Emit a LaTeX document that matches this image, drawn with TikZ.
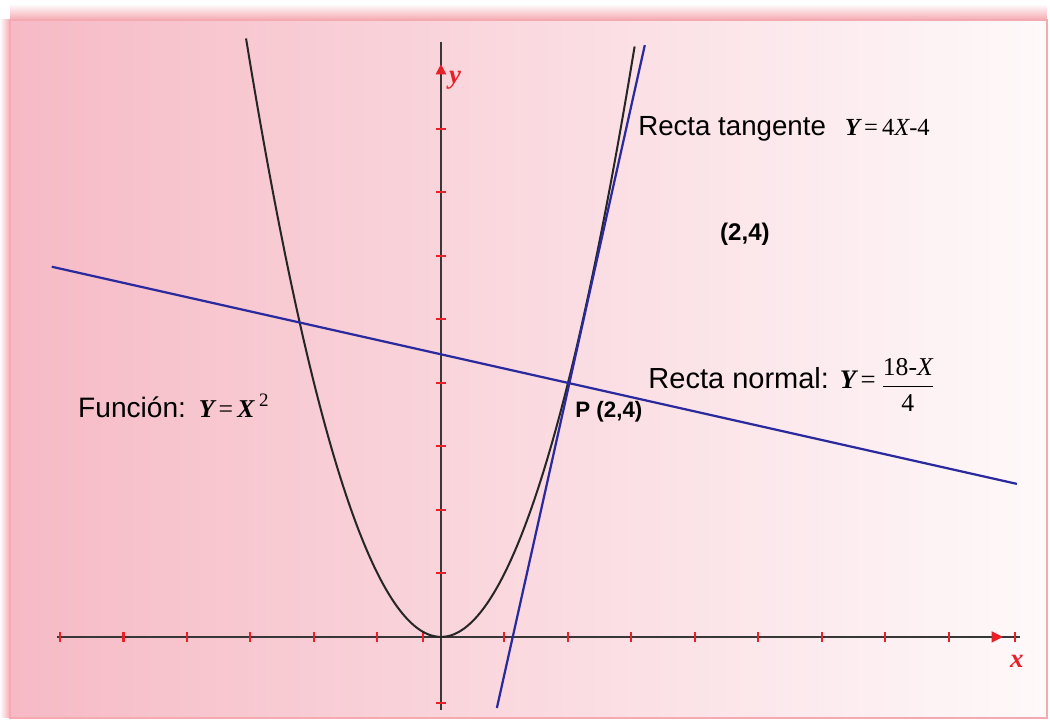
\documentclass[tikz,border=0pt]{standalone}
\usepackage{amsmath}
\usepackage{fontspec}
\setmainfont{Liberation Sans}
\newfontfamily\formfont{Liberation Serif}
\usetikzlibrary{arrows.meta,positioning,calc}

\definecolor{bgpink}{RGB}{246,186,197}
\definecolor{bgwhite}{RGB}{254,249,250}
\definecolor{framepink}{RGB}{245,170,178}
\definecolor{axred}{RGB}{232,32,40}
\definecolor{axgray}{RGB}{55,55,55}
\definecolor{lineblue}{RGB}{42,42,158}

\newcommand{\Yvar}{{\bfseries\itshape Y}}
\newcommand{\Xvar}{{\itshape X}}

\begin{document}
\begin{tikzpicture}[
    axisline/.style={axgray, line width=0.9pt},
    tickmark/.style={axred, line width=0.9pt},
    curveline/.style={black!85, line width=0.9pt},
    blueline/.style={lineblue, line width=1pt},
    lbl/.style={inner sep=0pt, anchor=base west, font=\fontsize{12.4}{15}\selectfont},
    ptlbl/.style={inner sep=0pt, anchor=base west, font=\bfseries},
    axlbl/.style={inner sep=0pt, text=axred, font=\formfont\fontsize{12}{14}\selectfont\bfseries\itshape}]
  \useasboundingbox (-6.945,-1.354) rectangle (9.591,10.031);

  % frame with soft shadow
  \shade[top color=white, bottom color=framepink] (-6.787,9.717) rectangle (9.543,9.97);
  \shade[left color=white, right color=framepink] (-6.95,-1.276) rectangle (-6.787,9.717);
  \shade[left color=bgpink, right color=bgwhite] (-6.787,-1.276) rectangle (9.543,9.717);
  \draw[framepink, line width=1pt] (-6.787,-1.276) rectangle (9.543,9.717);

  % axes
  \coordinate (xl) at (-6.05,0);
  \coordinate (xr) at (9.12,0);
  \coordinate (yb) at (0,-1.15);
  \coordinate (yt) at (0,9.37);
  \draw[axisline] (xl) -- (xr);
  \draw[axisline] (yb) -- (yt);
  \foreach \t in {-6,-5,-4,-3,-2,-1,-0.28,1,2,3,4,5,6,7,8,9.04}
    \draw[tickmark] (\t,-0.075) -- (\t,0.075);
  \foreach \t in {-1.04,1,2,3,4,5,6,7,8}
    \draw[tickmark] (-0.075,\t) -- (0.075,\t);
  \fill[axred] (8.85,0) -- ++(-0.18,0.09) -- ++(0,-0.18) -- cycle;
  \fill[axred] (0,9.02) -- ++(0.085,-0.16) -- ++(-0.17,0) -- cycle;
  \node[axlbl] (xlabel) at (9.07,-0.38) {x};
  \node[axlbl] (ylabel) at (0.22,8.76) {y};

  % parabola, tangent and normal
  \draw[curveline] plot[domain=-3.07:3.05, samples=90, smooth] (\x,{\x*\x});
  \coordinate (tb) at (0.88,-1.12);
  \coordinate (tt) at (3.21,9.32);
  \draw[blueline] (tb) -- (tt);
  \coordinate (nl) at (-6.13,5.83);
  \coordinate (nr) at (9.07,2.41);
  \draw[blueline] (nl) -- (nr);

  % labels
  \node[lbl] (tangentlabel) at (3.10,7.89)
    {Recta tangente\hspace{0.3cm}{\formfont\fontsize{11}{13}\selectfont\Yvar\,=\,4\Xvar-4}};
  \node[lbl, font=\fontsize{13}{15}\selectfont] (normallabel) at (3.26,3.92)
    {Recta normal: {\formfont\fontsize{12}{14}\selectfont\Yvar\,=\,\raisebox{-2.5pt}{$\displaystyle\genfrac{}{}{0.5pt}{}{\hbox{\formfont\fontsize{11.5}{14}\selectfont 18-\Xvar}}{\hbox{\formfont\fontsize{11.5}{14}\selectfont 4}}$}}};
  \node[lbl, font=\fontsize{12.6}{15}\selectfont] (funclabel) at (-5.72,3.46)
    {Función:\hspace{0.2cm}{\formfont\fontsize{11.5}{13}\selectfont\Yvar\,=\,{\bfseries\itshape X}\hspace{0.07cm}\raisebox{0.9ex}{\fontsize{8.5}{10}\selectfont 2}}};
  \node[ptlbl, font=\fontsize{10}{12}\selectfont\bfseries] (ptlabel) at (2.11,3.46) {P (2,4)};
  \node[ptlbl, font=\fontsize{10.8}{13}\selectfont\bfseries] (ptcoord) at (4.39,6.25) {(2,4)};
\end{tikzpicture}
\end{document}
